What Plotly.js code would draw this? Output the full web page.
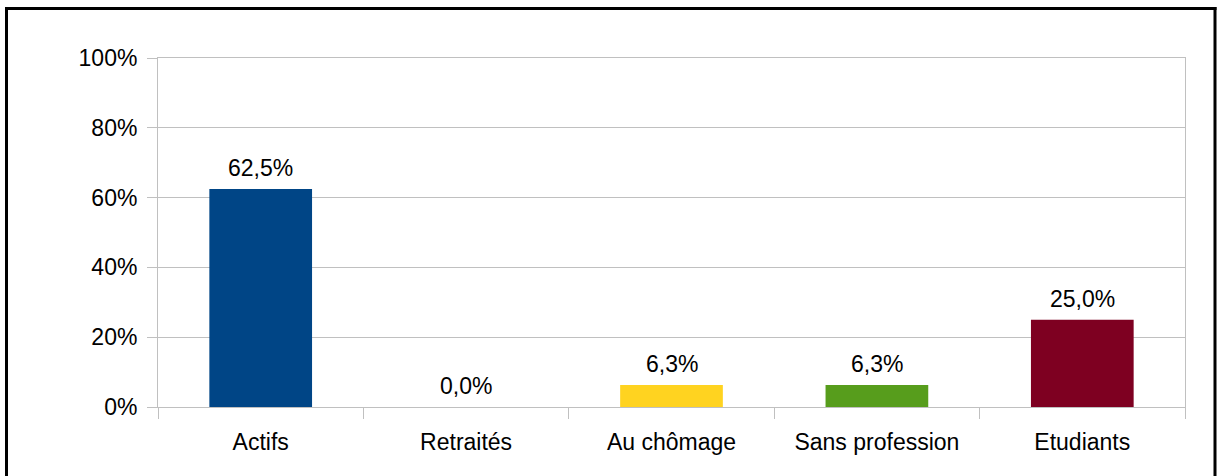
<!DOCTYPE html>
<html>
<head>
<meta charset="utf-8">
<script src="https://cdn.plot.ly/plotly-3.0.1.min.js"></script>
<style>
html,body{margin:0;padding:0;background:#fff;}
#chart{width:1219px;height:476px;}
</style>
</head>
<body>
<div id="chart"></div>
<script>
const categories = ["Actifs", "Retraités", "Au chômage", "Sans profession", "Etudiants"];
const values = [62.5, 0.0, 6.3, 6.3, 25.0];
const colors = ["#004586", "#ff420e", "#ffd320", "#579d1c", "#7e0021"];
const yTickVals = [0, 20, 40, 60, 80, 100];
const yTickText = ["0%", "20%", "40%", "60%", "80%", "100%"];

const FONT = "Liberation Sans, Arial, sans-serif";
const FS = 23;
const L = 158, R = 1185, T = 58, B = 407;
const pw = R - L, ph = B - T;
const px = v => (v - L) / pw;
const py = v => (B - v) / ph;

const trace = {
  type: "bar",
  x: categories,
  y: values,
  marker: {color: colors, line: {width: 0}},
  width: 0.5,
  hoverinfo: "none"
};

const annotations = categories.map((c, i) => ({
  x: c,
  y: values[i],
  xref: "x",
  yref: "y",
  text: values[i].toFixed(1).replace(".", ",") + "%",
  showarrow: false,
  yanchor: "bottom",
  xanchor: "center",
  yshift: 6,
  font: {family: FONT, size: FS, color: "#000"}
}));

const layout = {
  width: 1219,
  height: 476,
  margin: {l: L, r: 1219 - R, t: T, b: 476 - B, pad: 0},
  paper_bgcolor: "#fff",
  plot_bgcolor: "#fff",
  showlegend: false,
  font: {family: FONT, size: FS, color: "#000"},
  xaxis: {
    type: "category",
    showgrid: false,
    showline: true,
    linecolor: "#c0c0c0",
    linewidth: 1,
    mirror: true,
    ticks: "outside",
    tickson: "boundaries",
    ticklen: 11,
    tickcolor: "#c0c0c0",
    ticklabelstandoff: 14,
    tickfont: {family: FONT, size: FS, color: "#000"},
    fixedrange: true
  },
  yaxis: {
    range: [0, 100],
    tickvals: yTickVals,
    ticktext: yTickText,
    showgrid: true,
    gridcolor: "#c0c0c0",
    gridwidth: 1,
    zeroline: false,
    showline: true,
    linecolor: "#c0c0c0",
    linewidth: 1,
    mirror: true,
    ticks: "outside",
    ticklen: 10,
    tickcolor: "#c0c0c0",
    ticklabelstandoff: 5,
    tickfont: {family: FONT, size: FS, color: "#000"},
    fixedrange: true
  },
  annotations: annotations,
  shapes: [
    {type: "line", xref: "paper", yref: "paper", x0: px(6.5), x1: px(6.5), y0: py(8.5), y1: py(490), line: {color: "#000", width: 3}},
    {type: "line", xref: "paper", yref: "paper", x0: px(5), x1: px(1216.5), y0: py(8.5), y1: py(8.5), line: {color: "#000", width: 3}},
    {type: "line", xref: "paper", yref: "paper", x0: px(1215), x1: px(1215), y0: py(7), y1: py(490), line: {color: "#000", width: 3}}
  ]
};

Plotly.newPlot("chart", [trace], layout, {staticPlot: true, displayModeBar: false});
</script>
</body>
</html>
